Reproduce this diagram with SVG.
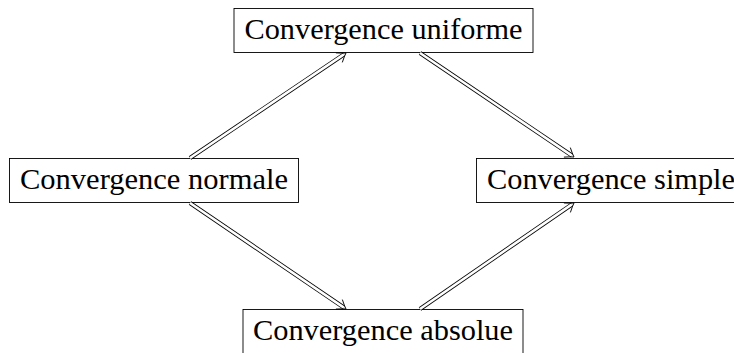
<svg xmlns="http://www.w3.org/2000/svg" xmlns:xlink="http://www.w3.org/1999/xlink" width="734" height="353" viewBox="0 0 734 353">
<style>
.box{fill:#fff;stroke:#000;stroke-width:0.9}
.lbl{font-family:"Liberation Serif","Times New Roman",serif;font-size:30px;fill:#000;text-anchor:middle}
.outer{fill:none;stroke:#000;stroke-width:4.2;stroke-linecap:butt}
.inner{fill:none;stroke:#fff;stroke-width:2.6;stroke-linecap:butt}
.head{fill:none;stroke:#000;stroke-width:0.85;stroke-linecap:round;stroke-linejoin:round}
</style>
<defs>
<path id="tip" class="head" d="M-8,-5.5 Q-3,-1.6 0,0 Q-3,1.6 -8,5.5"/>
</defs>
<rect width="734" height="353" fill="#fff"/>
<g id="uniforme">
<rect class="box" x="234" y="8.5" width="299" height="44"/>
<text class="lbl" x="383.5" y="38.5" textLength="278" lengthAdjust="spacingAndGlyphs">Convergence uniforme</text>
</g>
<g id="normale">
<rect class="box" x="9.5" y="158.5" width="289" height="44"/>
<text class="lbl" x="154" y="188.5" textLength="268" lengthAdjust="spacingAndGlyphs">Convergence normale</text>
</g>
<g id="simple">
<rect class="box" x="476.5" y="158.5" width="269" height="44"/>
<text class="lbl" x="611" y="188.5" textLength="248" lengthAdjust="spacingAndGlyphs">Convergence simple</text>
</g>
<g id="absolue">
<rect class="box" x="243" y="309.5" width="280" height="44"/>
<text class="lbl" x="383" y="339.5" textLength="260" lengthAdjust="spacingAndGlyphs">Convergence absolue</text>
</g>
<g id="connectors">
<g id="e1">
<path class="outer" d="M190,158 L343.9,54.4"/>
<path class="inner" d="M190,158 L343.9,54.4"/>
<use xlink:href="#tip" transform="translate(346,53) rotate(-33.9)"/>
</g>
<g id="e2">
<path class="outer" d="M420,53 L571.9,155.6"/>
<path class="inner" d="M420,53 L571.9,155.6"/>
<use xlink:href="#tip" transform="translate(574,157) rotate(34)"/>
</g>
<g id="e3">
<path class="outer" d="M190,203 L343.9,307.6"/>
<path class="inner" d="M190,203 L343.9,307.6"/>
<use xlink:href="#tip" transform="translate(346,309) rotate(34.2)"/>
</g>
<g id="e4">
<path class="outer" d="M420,309 L571.9,204.4"/>
<path class="inner" d="M420,309 L571.9,204.4"/>
<use xlink:href="#tip" transform="translate(574,203) rotate(-34.5)"/>
</g>
</g>
</svg>
